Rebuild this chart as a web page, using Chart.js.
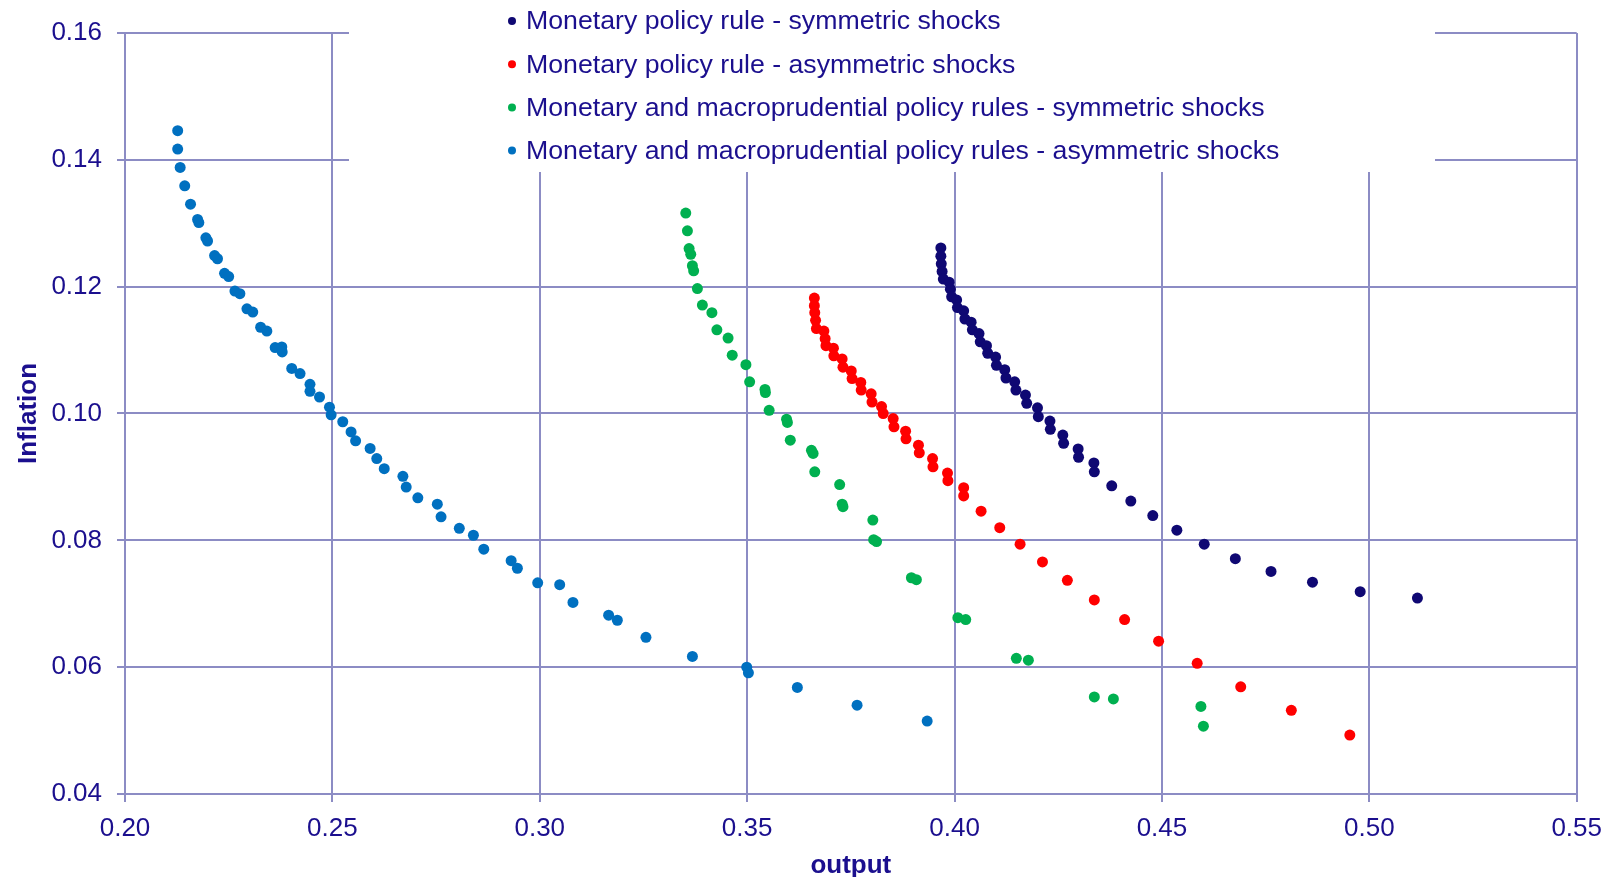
<!DOCTYPE html>
<html>
<head>
<meta charset="utf-8">
<script src="https://cdn.jsdelivr.net/npm/chart.js"></script>
<style>
  body { margin: 0; background: #fff; }
  #wrap { width: 1613px; height: 877px; }
</style>
</head>
<body>
<div id="wrap"><canvas id="frontier" width="1613" height="877"></canvas></div>
<script>
// series labels
const seriesLabels = [
  'Monetary policy rule - symmetric shocks',
  'Monetary policy rule - asymmetric shocks',
  'Monetary and macroprudential policy rules - symmetric shocks',
  'Monetary and macroprudential policy rules - asymmetric shocks'
];

// Monetary policy rule - symmetric shocks
const monSymX = [0.3967, 0.3967, 0.3968, 0.3970, 0.3973, 0.3987, 0.3990, 0.3993, 0.4005, 0.4007,
  0.4022, 0.4025, 0.4040, 0.4043, 0.4059, 0.4062, 0.4077, 0.4080, 0.4099, 0.4101,
  0.4121, 0.4124, 0.4145, 0.4148, 0.4171, 0.4174, 0.4200, 0.4202, 0.4230, 0.4231,
  0.4261, 0.4263, 0.4298, 0.4299, 0.4336, 0.4337, 0.4379, 0.4425, 0.4478, 0.4536,
  0.4602, 0.4677, 0.4763, 0.4863, 0.4978, 0.5116];
const monSymY = [0.1261, 0.1248, 0.1236, 0.1224, 0.1212, 0.1207, 0.1196, 0.1184, 0.1179, 0.1167,
  0.1162, 0.1149, 0.1144, 0.1132, 0.1126, 0.1113, 0.1107, 0.1095, 0.1089, 0.1076,
  0.1069, 0.1056, 0.1050, 0.1037, 0.1029, 0.1016, 0.1009, 0.0995, 0.0988, 0.0975,
  0.0966, 0.0953, 0.0944, 0.0931, 0.0922, 0.0908, 0.0886, 0.0862, 0.0839, 0.0816,
  0.0794, 0.0771, 0.0751, 0.0734, 0.0719, 0.0709];

// Monetary policy rule - asymmetric shocks
const monAsymX = [0.3662, 0.3662, 0.3663, 0.3665, 0.3667, 0.3685, 0.3688, 0.3690, 0.3708, 0.3709,
  0.3729, 0.3731, 0.3751, 0.3753, 0.3774, 0.3775, 0.3799, 0.3801, 0.3824, 0.3828,
  0.3852, 0.3854, 0.3882, 0.3883, 0.3913, 0.3915, 0.3947, 0.3948, 0.3983, 0.3984,
  0.4022, 0.4022, 0.4064, 0.4109, 0.4158, 0.4212, 0.4272, 0.4337, 0.4410, 0.4492,
  0.4585, 0.4690, 0.4812, 0.4953];
const monAsymY = [0.1182, 0.1170, 0.1159, 0.1147, 0.1134, 0.1130, 0.1118, 0.1107, 0.1103, 0.1091,
  0.1086, 0.1073, 0.1067, 0.1055, 0.1049, 0.1037, 0.1031, 0.1018, 0.1011, 0.1000,
  0.0992, 0.0979, 0.0972, 0.0960, 0.0950, 0.0938, 0.0929, 0.0916, 0.0906, 0.0894,
  0.0883, 0.0870, 0.0846, 0.0820, 0.0794, 0.0766, 0.0737, 0.0706, 0.0675, 0.0641,
  0.0606, 0.0569, 0.0532, 0.0493];

// Monetary and macroprudential policy rules - symmetric shocks
const macroSymX = [0.3352, 0.3356, 0.3360, 0.3364, 0.3368, 0.3371, 0.3380, 0.3392, 0.3415, 0.3427,
  0.3454, 0.3464, 0.3497, 0.3506, 0.3543, 0.3544, 0.3553, 0.3595, 0.3597, 0.3604,
  0.3655, 0.3659, 0.3663, 0.3723, 0.3729, 0.3731, 0.3803, 0.3805, 0.3812, 0.3896,
  0.3908, 0.4008, 0.4027, 0.4149, 0.4178, 0.4337, 0.4383, 0.4594, 0.4600];
const macroSymY = [0.1316, 0.1288, 0.1260, 0.1251, 0.1233, 0.1225, 0.1197, 0.1171, 0.1159, 0.1132,
  0.1119, 0.1092, 0.1077, 0.1050, 0.1038, 0.1033, 0.1005, 0.0991, 0.0986, 0.0958,
  0.0942, 0.0937, 0.0908, 0.0888, 0.0857, 0.0853, 0.0832, 0.0801, 0.0798, 0.0741,
  0.0738, 0.0678, 0.0675, 0.0614, 0.0611, 0.0553, 0.0550, 0.0538, 0.0507];

// Monetary and macroprudential policy rules - asymmetric shocks
const macroAsymX = [0.2127, 0.2127, 0.2133, 0.2144, 0.2158, 0.2175, 0.2178, 0.2195, 0.2199, 0.2216,
  0.2223, 0.2240, 0.2250, 0.2265, 0.2277, 0.2294, 0.2308, 0.2327, 0.2342, 0.2362,
  0.2378, 0.2379, 0.2402, 0.2422, 0.2446, 0.2446, 0.2469, 0.2493, 0.2497, 0.2525,
  0.2545, 0.2556, 0.2591, 0.2607, 0.2625, 0.2670, 0.2678, 0.2706, 0.2753, 0.2762,
  0.2806, 0.2840, 0.2865, 0.2931, 0.2946, 0.2995, 0.3048, 0.3080, 0.3166, 0.3187,
  0.3256, 0.3368, 0.3499, 0.3503, 0.3621, 0.3765, 0.3934];
const macroAsymY = [0.1446, 0.1417, 0.1388, 0.1359, 0.1330, 0.1306, 0.1301, 0.1277, 0.1272, 0.1249,
  0.1244, 0.1221, 0.1216, 0.1193, 0.1189, 0.1165, 0.1160, 0.1136, 0.1130, 0.1104,
  0.1105, 0.1097, 0.1071, 0.1063, 0.1046, 0.1035, 0.1026, 0.1010, 0.0998, 0.0987,
  0.0971, 0.0957, 0.0945, 0.0929, 0.0913, 0.0901, 0.0884, 0.0867, 0.0857, 0.0837,
  0.0819, 0.0808, 0.0786, 0.0768, 0.0756, 0.0733, 0.0730, 0.0702, 0.0682, 0.0674,
  0.0647, 0.0617, 0.0600, 0.0591, 0.0568, 0.0540, 0.0515];

const seriesColors = ['#0f0873', '#ff0000', '#00b050', '#0070c0'];
const textColor = '#1b0f8e';
const gridColor = '#8c8cc4';
const fontFamily = '"Liberation Sans", Arial, sans-serif';

const toPoints = (xs, ys) => xs.map((x, i) => ({ x: x, y: ys[i] }));
const seriesData = [
  toPoints(monSymX, monSymY),
  toPoints(monAsymX, monAsymY),
  toPoints(macroSymX, macroSymY),
  toPoints(macroAsymX, macroAsymY)
];

// legend drawn inside the plot on a white box, like the original
const legendBox = {
  id: 'legendBox',
  beforeDatasetsDraw(chart, args, opts) {
    const ctx = chart.ctx;
    ctx.save();
    ctx.fillStyle = '#ffffff';
    ctx.fillRect(opts.left, 0, opts.right - opts.left, opts.bottom);
    ctx.font = '26.7px ' + fontFamily;
    ctx.textBaseline = 'middle';
    ctx.textAlign = 'left';
    chart.data.datasets.forEach((ds, i) => {
      const y = opts.firstRow + i * opts.rowGap;
      ctx.fillStyle = ds.backgroundColor;
      ctx.beginPath();
      ctx.arc(opts.dotX, y, opts.dotR, 0, Math.PI * 2);
      ctx.fill();
      ctx.fillStyle = textColor;
      ctx.fillText(ds.label, opts.textX, y + 1);
    });
    ctx.restore();
  }
};

new Chart(document.getElementById('frontier'), {
  type: 'scatter',
  data: {
    datasets: seriesData.map((pts, i) => ({
      label: seriesLabels[i],
      data: pts,
      backgroundColor: seriesColors[i],
      borderColor: seriesColors[i],
      borderWidth: 0,
      pointRadius: 5.5,
      pointHoverRadius: 5.5
    }))
  },
  options: {
    responsive: false,
    animation: false,
    layout: { padding: { left: 0, right: 34, top: 33, bottom: 0 } },
    plugins: {
      legend: { display: false },
      tooltip: { enabled: false },
      legendBox: { left: 349, right: 1435, bottom: 172, dotX: 512, dotR: 4, textX: 526, firstRow: 21, rowGap: 43.2 }
    },
    scales: {
      x: {
        type: 'linear',
        min: 0.2,
        max: 0.55,
        afterFit: (scale) => { scale.height = 83; },
        ticks: {
          stepSize: 0.05,
          color: textColor,
          font: { family: fontFamily, size: 26 },
          padding: 11,
          callback: (v) => v.toFixed(2)
        },
        grid: { color: gridColor, lineWidth: 2, tickLength: 8 },
        border: { color: gridColor, width: 2 },
        title: {
          display: true,
          text: 'output',
          color: textColor,
          font: { family: fontFamily, size: 26, weight: 'bold', lineHeight: 0.85 },
          padding: { top: 0, bottom: 0 }
        }
      },
      y: {
        type: 'linear',
        min: 0.04,
        max: 0.16,
        afterFit: (scale) => { scale.width = 125; },
        ticks: {
          stepSize: 0.02,
          color: textColor,
          font: { family: fontFamily, size: 26 },
          padding: 15,
          callback: (v) => v.toFixed(2)
        },
        grid: { color: gridColor, lineWidth: 2, tickLength: 8 },
        border: { color: gridColor, width: 2 },
        title: {
          display: true,
          text: 'Inflation',
          color: textColor,
          font: { family: fontFamily, size: 26, weight: 'bold', lineHeight: 1 },
          padding: { top: 16, bottom: 0 }
        }
      }
    }
  },
  plugins: [legendBox]
});
</script>
</body>
</html>
